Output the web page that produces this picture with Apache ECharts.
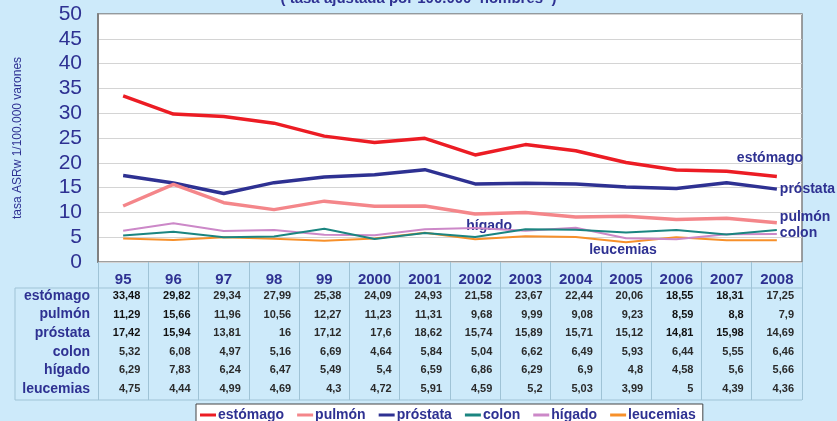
<!DOCTYPE html>
<html>
<head>
<meta charset="utf-8">
<script src="https://cdn.jsdelivr.net/npm/echarts@6/dist/echarts.min.js"></script>
<style>
html,body{margin:0;padding:0;background:#cdeafa;}
#c{width:837px;height:421px;}
</style>
</head>
<body>
<div id="c"></div>
<script>
const years = ['95','96','97','98','99','2000','2001','2002','2003','2004','2005','2006','2007','2008'];
const seriesNames = ['estómago','pulmón','próstata','colon','hígado','leucemias'];
const estomago = [33.48,29.82,29.34,27.99,25.38,24.09,24.93,21.58,23.67,22.44,20.06,18.55,18.31,17.25];
const pulmon = [11.29,15.66,11.96,10.56,12.27,11.23,11.31,9.68,9.99,9.08,9.23,8.59,8.8,7.9];
const prostata = [17.42,15.94,13.81,16,17.12,17.6,18.62,15.74,15.89,15.71,15.12,14.81,15.98,14.69];
const colon = [5.32,6.08,4.97,5.16,6.69,4.64,5.84,5.04,6.62,6.49,5.93,6.44,5.55,6.46];
const higado = [6.29,7.83,6.24,6.47,5.49,5.4,6.59,6.86,6.29,6.9,4.8,4.58,5.6,5.66];
const leucemias = [4.75,4.44,4.99,4.69,4.3,4.72,5.91,4.59,5.2,5.03,3.99,5,4.39,4.36];
const yTicks = [0,5,10,15,20,25,30,35,40,45,50];
const titleText = '( tasa ajustada por 100.000  hombres  )';
const yAxisName = 'tasa ASRw 1/100.000 varones';

const allData = [estomago, pulmon, prostata, colon, higado, leucemias];
const colors = ['#ec1c24','#f4868a','#2e3192','#1b8580','#cc88c8','#f7902a'];
const widths = [3.5,3.5,3.5,2,2,2];
const navy = '#2e3192';

const chart = echarts.init(document.getElementById('c'));

function lbl(offset) {
  return {show:true, formatter:'{a}', color:navy, fontWeight:'bold', fontSize:14,
          fontFamily:'Liberation Sans, Arial, sans-serif', offset:offset, distance:3};
}
const endLabels = {
  'estómago': lbl([-43,-18]),
  'próstata': lbl([0,0]),
  'pulmón': lbl([0,-6]),
  'colon': lbl([0,3])
};
const markPts = {
  'hígado': {coord:['2002', higado[7]], off:[14,-2]},
  'leucemias': {coord:['2005', leucemias[10]], off:[-3,8]}
};

const series = seriesNames.map((n,i)=>{
  const s = {
    name:n, type:'line', data:allData[i], symbol:'none', smooth:false,
    lineStyle:{color:colors[i], width:widths[i]}, itemStyle:{color:colors[i]},
    z: 10-i
  };
  if (endLabels[n]) s.endLabel = endLabels[n];
  if (markPts[n]) {
    s.markPoint = {
      symbol:'circle', symbolSize:0, silent:true,
      data:[{coord:markPts[n].coord, value:n}],
      label:{show:true, formatter:n, color:navy, fontWeight:'bold', fontSize:14,
             fontFamily:'Liberation Sans, Arial, sans-serif', position:'inside', offset:markPts[n].off}
    };
  }
  return s;
});

const option = {
  backgroundColor:'#cdeafa',
  animation:false,
  textStyle:{fontFamily:'Liberation Sans, Arial, sans-serif'},
  grid:{left:98, right:35, top:14, bottom:159, show:true, backgroundColor:'#ffffff',
        borderColor:'#808080', borderWidth:1.5, containLabel:false},
  legend:{
    data:seriesNames, left:196, top:404, orient:'horizontal',
    backgroundColor:'#ffffff', borderColor:'#444', borderWidth:1,
    padding:[4,7,8,4], itemGap:13, itemWidth:16, itemHeight:3, icon:'rect',
    textStyle:{color:navy, fontWeight:'bold', fontSize:14, padding:[0,0,0,-3]}
  },
  xAxis:{
    type:'category', data:years, boundaryGap:true,
    axisLine:{show:false},
    axisTick:{show:true, interval:0, length:138, lineStyle:{color:'#9fc3d6', width:1}},
    axisLabel:{interval:0, color:navy, fontWeight:'bold', fontSize:15, margin:10}
  },
  yAxis:{
    type:'value', min:0, max:50, interval:5,
    name:yAxisName, nameLocation:'middle', nameGap:74, nameRotate:90,
    nameTextStyle:{color:navy, fontSize:12},
    axisLine:{show:true, lineStyle:{color:'#808080', width:2}},
    axisTick:{show:false},
    axisLabel:{color:navy, fontSize:21, margin:16},
    splitLine:{show:true, lineStyle:{color:'#d4d4d4', width:1}}
  },
  series:series
};
chart.setOption(option);

// build the data table under the axis
const gridBottom = chart.convertToPixel({yAxisIndex:0}, 0);
const x0 = chart.convertToPixel({xAxisIndex:0}, 0);
const x1 = chart.convertToPixel({xAxisIndex:0}, 1);
const colW = x1 - x0;
const tableLeft = 15;
const gridRight = 837 - 35;
const headBottom = gridBottom + 26;
const rowStart = gridBottom + 34;
const rowStep = 18.6;
const tableBottom = gridBottom + 138;
const lineColor = '#9fc3d6';
const graphics = [];
graphics.push({type:'text', left:'center', top:-9,
  style:{text:titleText, fill:navy, font:'bold 15px Liberation Sans, Arial, sans-serif'}});
graphics.push({type:'line', shape:{x1:tableLeft, y1:headBottom, x2:gridRight, y2:headBottom}, style:{stroke:lineColor, lineWidth:1}});
graphics.push({type:'line', shape:{x1:tableLeft, y1:tableBottom, x2:gridRight, y2:tableBottom}, style:{stroke:lineColor, lineWidth:1}});
graphics.push({type:'line', shape:{x1:tableLeft, y1:headBottom, x2:tableLeft, y2:tableBottom}, style:{stroke:lineColor, lineWidth:1}});
const darkCols = {0:1,1:1,11:1,12:1};
seriesNames.forEach((n, r) => {
  const y = rowStart + r*rowStep;
  graphics.push({type:'text', x:90, y:y, style:{text:n, fill:navy, textAlign:'right', textVerticalAlign:'middle',
    font:'bold 14px Liberation Sans, Arial, sans-serif'}});
  allData[r].forEach((v, c) => {
    const cx = chart.convertToPixel({xAxisIndex:0}, c);
    const dark = darkCols[c] && r < 3;
    graphics.push({type:'text', x:cx + colW/2 - 8, y:y, style:{
      text:String(v).replace('.', ','), fill: dark ? '#111' : '#2a2a2a', textAlign:'right', textVerticalAlign:'middle',
      font:(dark ? '900 ' : 'bold ') + '11px Liberation Sans, Arial, sans-serif'}});
  });
});
chart.setOption({graphic:graphics});
</script>
</body>
</html>
